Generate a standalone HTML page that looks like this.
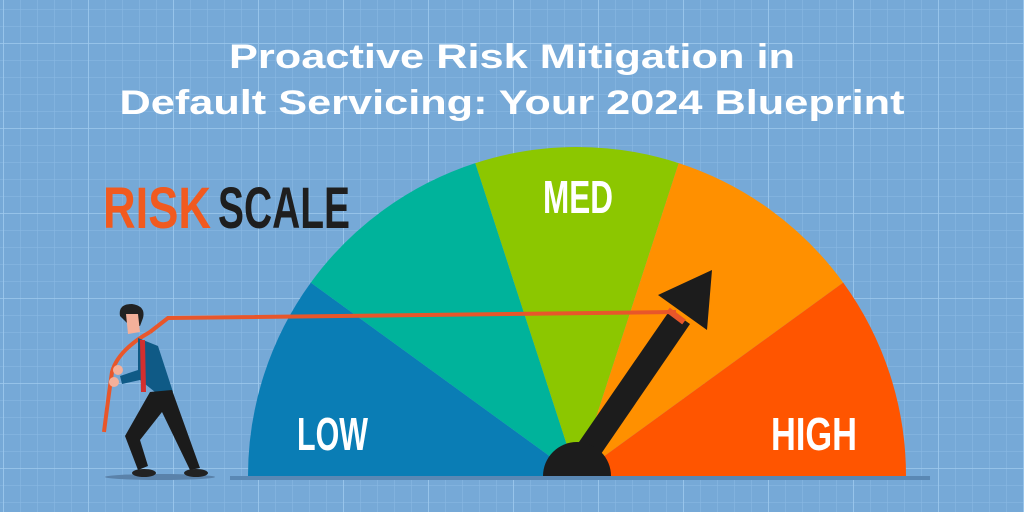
<!DOCTYPE html>
<html><head><meta charset="utf-8"><style>html,body{margin:0;padding:0;background:#78aad7}svg{display:block}</style></head>
<body>
<svg width="1024" height="512" viewBox="0 0 1024 512" xmlns="http://www.w3.org/2000/svg">
<defs>
<pattern id="minor" x="3" y="43" width="17" height="17" patternUnits="userSpaceOnUse"><path d="M0 0V17M0 0H17" stroke="#8cbbe4" stroke-width="1" fill="none"/></pattern>
<pattern id="major" x="3" y="43" width="85" height="85" patternUnits="userSpaceOnUse"><path d="M0 0V85M0 0H85" stroke="#9fcaee" stroke-width="1.6" fill="none"/></pattern>
</defs>
<rect width="1024" height="512" fill="#76a9d7"/>
<rect width="1024" height="512" fill="url(#minor)"/>
<rect width="1024" height="512" fill="url(#major)"/>
<g font-family="Liberation Sans, sans-serif" font-weight="bold" fill="#fff" text-anchor="middle">
<text x="512" y="68" font-size="34" textLength="566" lengthAdjust="spacingAndGlyphs">Proactive Risk Mitigation in</text>
<text x="512" y="114" font-size="34" textLength="785" lengthAdjust="spacingAndGlyphs">Default Servicing: Your 2024 Blueprint</text>
</g>
<g font-family="Liberation Sans Narrow, Liberation Sans, sans-serif" font-weight="bold">
<text x="103" y="228" font-size="58" fill="#f15a1f" textLength="108" lengthAdjust="spacingAndGlyphs">RISK</text>
<text x="218" y="228" font-size="58" fill="#1e1e1e" textLength="132" lengthAdjust="spacingAndGlyphs">SCALE</text>
</g>
<!-- ground -->
<rect x="230" y="476" width="700" height="4" fill="#5a88b4"/>
<ellipse cx="160" cy="477" rx="55" ry="3" fill="#5a82aa"/>
<!-- gauge -->
<g transform="translate(577,476)">
<path d="M0 0L-329 0A329 329 0 0 1 -266.2 -193.4Z" fill="#0a7db5"/>
<path d="M0 0L-266.2 -193.4A329 329 0 0 1 -101.7 -312.9Z" fill="#00b39b"/>
<path d="M0 0L-101.7 -312.9A329 329 0 0 1 101.7 -312.9Z" fill="#8cc700"/>
<path d="M0 0L101.7 -312.9A329 329 0 0 1 266.2 -193.4Z" fill="#ff9000"/>
<path d="M0 0L266.2 -193.4A329 329 0 0 1 329 0Z" fill="#ff5500"/>
</g>
<g font-family="Liberation Sans Narrow, Liberation Sans, sans-serif" font-weight="bold" fill="#fff">
<text x="297" y="450" font-size="46" textLength="71" lengthAdjust="spacingAndGlyphs">LOW</text>
<text x="543" y="213" font-size="46" textLength="70" lengthAdjust="spacingAndGlyphs">MED</text>
<text x="771" y="450" font-size="46" textLength="86" lengthAdjust="spacingAndGlyphs">HIGH</text>
</g>
<!-- needle -->
<polygon points="570,455 590,470 690,324 670,310" fill="#1c1c1c"/>
<polygon points="658,295 712,270 707,330" fill="#1c1c1c"/>
<path d="M543 476A34 34 0 0 1 611 476Z" fill="#1c1c1c"/>
<line x1="668" y1="310" x2="684" y2="322" stroke="#e8562a" stroke-width="6"/>
<!-- rope -->
<path d="M150 332L168 318L676 312" stroke="#e8562a" stroke-width="4" fill="none"/>
<path d="M150 332Q118 350 112 372Q108 400 104 432" stroke="#e8562a" stroke-width="4" fill="none"/>
<!-- man -->
<path d="M120 316Q118 304 132 304Q146 306 143 318L140 326L130 326Z" fill="#222"/>
<path d="M126 314L138 314L140 332L128 334Z" fill="#f4b09a"/>
<path d="M138 338L158 346L173 392L160 396L140 380L122 384L120 376L138 370Z" fill="#0f5a86"/>
<path d="M140 340L145 340L146 392L141 392Z" fill="#d32f2f"/>
<path d="M150 392L172 390L200 468L190 470L162 412L140 440L148 466L138 470L125 436Z" fill="#1b1b1b"/>
<ellipse cx="144" cy="473" rx="12" ry="4" fill="#222"/>
<ellipse cx="196" cy="473" rx="12" ry="4" fill="#222"/>
<circle cx="118" cy="370" r="5" fill="#f4b09a"/>
<circle cx="114" cy="382" r="5" fill="#f4b09a"/>
</svg>
</body></html>
